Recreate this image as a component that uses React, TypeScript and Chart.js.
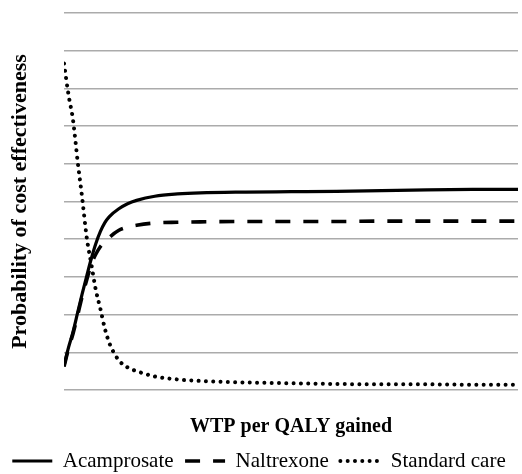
import React, { useEffect, useRef } from "react";
import { Chart, registerables } from "chart.js";

Chart.register(...registerables);

const wtp = [0, 1, 2, 3, 4, 5, 6, 7, 8, 9, 10, 12, 14, 16, 20, 25, 30, 40, 50, 60, 70, 80, 90, 100];
const acamprosate = [0.064, 0.113, 0.155, 0.205, 0.255, 0.302, 0.348, 0.388, 0.42, 0.444, 0.46, 0.48, 0.494, 0.503, 0.514, 0.52, 0.523, 0.525, 0.526, 0.527, 0.529, 0.531, 0.532, 0.532];
const naltrexone = [0.062, 0.11, 0.15, 0.198, 0.248, 0.292, 0.333, 0.36, 0.38, 0.393, 0.405, 0.423, 0.432, 0.437, 0.443, 0.445, 0.446, 0.447, 0.447, 0.447, 0.448, 0.448, 0.448, 0.448];
const standardCare = [0.866, 0.783, 0.715, 0.607, 0.51, 0.405, 0.335, 0.266, 0.216, 0.163, 0.124, 0.08, 0.06, 0.05, 0.036, 0.028, 0.024, 0.02, 0.018, 0.016, 0.015, 0.015, 0.014, 0.014];
const seriesNames = ["Acamprosate", "Naltrexone", "Standard care"];
const xTitle = "WTP per QALY gained";
const yTitle = "Probability of cost effectiveness";

const FONT = "'Liberation Serif', 'Times New Roman', serif";

export default function App() {
  const ref = useRef<HTMLCanvasElement>(null);
  useEffect(() => {
    document.body.style.margin = "0";
    const toPts = (arr: number[]) => arr.map((v, i) => ({ x: wtp[i], y: v }));
    const chart = new Chart(ref.current!, {
      type: "line",
      data: {
        datasets: [
          {
            label: seriesNames[0],
            data: toPts(acamprosate),
            borderColor: "#000",
            backgroundColor: "#000",
            borderWidth: 3.2,
            pointRadius: 0,
            cubicInterpolationMode: "monotone",
          },
          {
            label: seriesNames[1],
            data: toPts(naltrexone),
            borderColor: "#000",
            backgroundColor: "#000",
            borderWidth: 3.6,
            borderDash: [15, 13],
            pointRadius: 0,
            cubicInterpolationMode: "monotone",
          },
          {
            label: seriesNames[2],
            data: toPts(standardCare),
            borderColor: "#000",
            backgroundColor: "#000",
            borderWidth: 4,
            borderDash: [0.01, 7.3],
            borderCapStyle: "round",
            pointRadius: 0,
            cubicInterpolationMode: "monotone",
          },
        ],
      },
      options: {
        animation: false,
        responsive: false,
        maintainAspectRatio: false,
        layout: { padding: { top: 13, right: 4, left: 0, bottom: -7.5 } },
        plugins: {
          tooltip: { enabled: false },
          legend: {
            position: "bottom",
            labels: {
              usePointStyle: true,
              pointStyle: "line",
              pointStyleWidth: 40,
              color: "#000",
              font: { family: FONT, size: 21 },
              padding: 11.5,
              generateLabels: (c: any) =>
                c.data.datasets.map((ds: any, i: number) => ({
                  text: ds.label,
                  fillStyle: "#000",
                  strokeStyle: "#000",
                  fontColor: "#000",
                  lineWidth: ds.borderWidth,
                  lineDash: ds.borderDash || [],
                  lineCap: ds.borderCapStyle || "butt",
                  pointStyle: "line",
                  hidden: false,
                  datasetIndex: i,
                })),
            },
          },
        },
        scales: {
          x: {
            type: "linear",
            min: 0,
            max: 100,
            ticks: { display: false },
            grid: { display: false, drawTicks: false },
            border: { display: false },
            title: {
              display: true,
              text: xTitle,
              color: "#000",
              font: { family: FONT, size: 20, weight: "bold" },
              padding: { top: 0, bottom: 0 },
            },
            afterFit: (s: any) => {
              s.height = 49;
            },
          },
          y: {
            min: 0,
            max: 1,
            ticks: { display: false, stepSize: 0.1 },
            grid: { color: "#ababab", lineWidth: 1.5, drawTicks: false },
            border: { display: false },
            title: {
              display: true,
              text: yTitle,
              color: "#000",
              font: { family: FONT, size: 22, weight: "bold" },
              padding: { top: 7, bottom: 0 },
            },
            afterFit: (s: any) => {
              s.width = 64;
            },
          },
        },
      },
    });
    return () => chart.destroy();
  }, []);
  return (
    <div style={{ width: 522, height: 474 }}>
      <canvas ref={ref} width={522} height={474} style={{ display: "block" }} />
    </div>
  );
}
